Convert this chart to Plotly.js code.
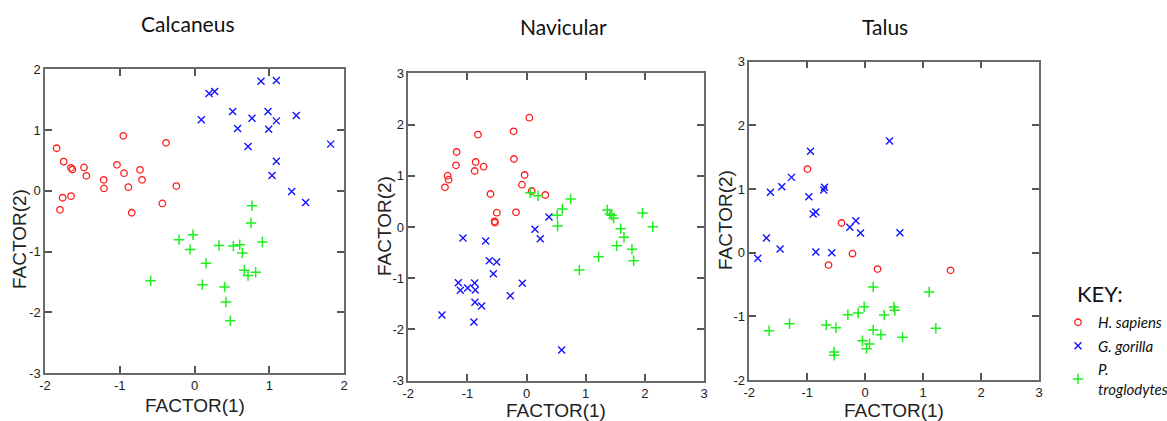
<!DOCTYPE html>
<html>
<head>
<meta charset="utf-8">
<script src="https://cdn.plot.ly/plotly-3.0.1.min.js"></script>
<style>html,body{margin:0;padding:0;background:#fff;}#chart{width:1167px;height:421px;}</style>
</head>
<body>
<div id="chart"></div>
<script>
// ---- Data ----
const panelTitles = ["Calcaneus", "Navicular", "Talus"];
const speciesNames = ["<i>H. sapiens</i>", "<i>G. gorilla</i>", "<i>P.</i><br><i>troglodytes</i>"];

// Calcaneus
const calcHsX = [-1.844,-1.75,-1.652,-1.634,-1.478,-1.447,-1.215,-1.211,-1.037,-0.952,-0.943,-0.885,-0.729,-0.702,-0.840,-0.381,-0.43,-0.243,-1.764,-1.652,-1.80];
const calcHsY = [0.70,0.48,0.378,0.35,0.384,0.247,0.18,0.038,0.428,0.905,0.29,0.06,0.345,0.18,-0.362,0.79,-0.208,0.077,-0.115,-0.088,-0.313];
const calcGgX = [0.091,0.194,0.27,0.511,0.577,0.769,0.716,0.89,1.095,0.983,0.992,1.095,1.362,1.095,1.037,1.30,1.487,1.822];
const calcGgY = [1.168,1.60,1.634,1.305,1.025,1.195,0.729,1.804,1.815,1.305,1.014,1.151,1.239,0.488,0.252,-0.011,-0.192,0.768];
const calcPtX = [0.769,0.756,0.908,-0.207,-0.02,-0.06,0.328,0.52,0.605,0.64,0.154,-0.586,0.104,0.403,0.667,0.716,0.818,0.421,0.479];
const calcPtY = [-0.247,-0.532,-0.844,-0.806,-0.724,-0.965,-0.899,-0.91,-0.888,-1.025,-1.195,-1.48,-1.546,-1.584,-1.31,-1.393,-1.343,-1.831,-2.138];

// Navicular
const navHsX = [0.046,-0.219,-0.822,-1.183,-1.194,-0.861,-0.878,-0.726,-1.335,-1.318,-1.38,-0.213,-0.033,-0.078,0.086,0.317,-0.61,-0.503,-0.179,-0.541,-0.535];
const navHsY = [2.134,1.868,1.803,1.464,1.204,1.269,1.093,1.178,1.002,0.924,0.774,1.327,1.015,0.826,0.703,0.625,0.644,0.28,0.286,0.111,0.085];
const navGgX = [-1.075,-0.692,-0.63,-0.506,-0.562,0.142,0.232,0.379,-0.072,-0.275,-0.878,-0.867,-0.996,-1.154,-1.12,-0.873,-0.76,-0.89,-1.431,0.593];
const navGgY = [-0.215,-0.273,-0.657,-0.683,-0.911,-0.046,-0.228,0.195,-1.10,-1.341,-1.093,-1.23,-1.191,-1.087,-1.236,-1.471,-1.542,-1.855,-1.718,-2.401];
const navPtX = [0.063,0.193,0.745,0.604,0.519,0.525,1.365,1.41,1.438,1.472,1.959,2.134,1.591,1.647,1.523,1.782,1.81,1.219,0.892];
const navPtY = [0.67,0.612,0.547,0.351,0.228,0.02,0.332,0.254,0.228,0.169,0.273,0.007,-0.033,-0.202,-0.364,-0.436,-0.657,-0.579,-0.839];

// Talus
const talHsX = [-0.996,-0.409,-0.219,-0.633,0.213,1.473];
const talHsY = [1.314,0.466,-0.016,-0.194,-0.257,-0.277];
const talGgX = [0.42,-0.944,-1.272,-1.439,-1.635,-0.702,-0.714,-0.973,-0.898,-0.852,-0.265,-0.161,-0.081,0.599,-1.704,-1.468,-1.853,-0.852,-0.576];
const talGgY = [1.754,1.592,1.183,1.037,0.948,1.026,0.984,0.88,0.607,0.639,0.398,0.503,0.309,0.314,0.23,0.058,-0.089,0.01,0];
const talPtX = [0.138,1.105,1.22,0.645,0.495,0.512,0.328,-0.017,-0.121,-0.299,0.138,0.271,-0.046,0.075,0.023,-0.673,-0.506,-0.535,-0.535,-1.306,-1.658];
const talPtY = [-0.539,-0.618,-1.188,-1.33,-0.853,-0.906,-0.979,-0.848,-0.948,-0.974,-1.215,-1.288,-1.382,-1.435,-1.508,-1.136,-1.178,-1.56,-1.613,-1.115,-1.225];

const xTicks1 = [-2,-1,0,1,2];
const yTicks1 = [-3,-2,-1,0,1,2];
const xTicks2 = [-2,-1,0,1,2,3];
const yTicks2 = [-3,-2,-1,0,1,2,3];
const xTicks3 = [-2,-1,0,1,2,3];
const yTicks3 = [-2,-1,0,1,2,3];
const axisTitleX = "FACTOR(1)";
const axisTitleY = "FACTOR(2)";
const keyTitle = "KEY:";

// ---- Styles ----
const RED = "#ff1a1a", BLUE = "#1414ff", GREEN = "#1ef01e";
const styles = [
  {symbol: "circle-open", size: 6.5, color: RED, lw: 1.3},
  {symbol: "x-thin-open", size: 7, color: BLUE, lw: 1.4},
  {symbol: "cross-thin-open", size: 7.5, color: GREEN, lw: 1.5}
];

const panels = [
  [[calcHsX, calcHsY],[calcGgX, calcGgY],[calcPtX, calcPtY]],
  [[navHsX, navHsY],[navGgX, navGgY],[navPtX, navPtY]],
  [[talHsX, talHsY],[talGgX, talGgY],[talPtX, talPtY]]
];

const traces = [];
panels.forEach((p, pi) => {
  p.forEach((s, si) => {
    const st = styles[si];
    traces.push({
      type: "scatter", mode: "markers",
      x: s[0], y: s[1],
      xaxis: pi === 0 ? "x" : "x" + (pi + 1),
      yaxis: pi === 0 ? "y" : "y" + (pi + 1),
      name: speciesNames[si],
      legendgroup: "g" + si,
      showlegend: pi === 0,
      marker: {symbol: st.symbol, size: st.size, color: st.color, line: {color: st.color, width: st.lw}},
      hoverinfo: "x+y"
    });
  });
});

const W = 1167, H = 421;
const ARIAL = "Liberation Sans, Arial, sans-serif";
const CALIBRI = "Lato, Open Sans, sans-serif";
function axisBase(tv, range) {
  return {
    range: range, tickvals: tv, ticktext: tv.map(String),
    showline: true, linecolor: "#6a6a6a", linewidth: 1.5,
    mirror: "ticks", ticks: "inside", ticklen: 7, tickwidth: 1.5, tickcolor: "#555",
    showgrid: false, zeroline: false, automargin: false,
    tickfont: {family: ARIAL, size: 13, color: "#222"},
    fixedrange: true
  };
}
function xa(domainPx, tv, range, anchor) {
  return Object.assign(axisBase(tv, range), {domain: [domainPx[0]/W, domainPx[1]/W], anchor: anchor});
}
function ya(domainPx, tv, range, anchor) {
  return Object.assign(axisBase(tv, range), {domain: [1 - domainPx[1]/H, 1 - domainPx[0]/H], anchor: anchor});
}

function ann(text, xpx, ypx, font, extra) {
  return Object.assign({text: text, x: xpx/W, y: 1 - ypx/H, xref: "paper", yref: "paper",
    xanchor: "center", yanchor: "middle", showarrow: false, font: font}, extra || {});
}
const titleFont = {family: CALIBRI, size: 21, color: "#111"};
const axFont = {family: ARIAL, size: 19, color: "#222"};

const layout = {
  width: W, height: H,
  margin: {l: 0, r: 0, t: 0, b: 0, autoexpand: false},
  paper_bgcolor: "#fff", plot_bgcolor: "#fff",
  showlegend: true,
  legend: {
    x: 1058/W, y: 1 - 306/H, xanchor: "left", yanchor: "top",
    font: {family: CALIBRI, size: 15, color: "#111"},
    bgcolor: "rgba(0,0,0,0)", itemwidth: 30, tracegroupgap: 1
  },
  xaxis: xa([45, 344], xTicks1, [-2, 2], "y"),
  yaxis: ya([69.3, 373], yTicks1, [-3, 2], "x"),
  xaxis2: xa([408.3, 704], xTicks2, [-2, 3], "y2"),
  yaxis2: ya([73.3, 380.7], yTicks2, [-3, 3], "x2"),
  xaxis3: xa([749.3, 1039], xTicks3, [-2, 3], "y3"),
  yaxis3: ya([61.7, 380], yTicks3, [-2, 3], "x3"),
  annotations: [
    ann(panelTitles[0], 188, 24, titleFont),
    ann(panelTitles[1], 563, 27, titleFont),
    ann(panelTitles[2], 885, 27, titleFont),
    ann(axisTitleX, 194.5, 405, axFont),
    ann(axisTitleX, 555.5, 410, axFont),
    ann(axisTitleX, 893.5, 410, axFont),
    ann(axisTitleY, 19, 239, axFont, {textangle: -90}),
    ann(axisTitleY, 384.5, 226.5, axFont, {textangle: -90}),
    ann(axisTitleY, 726, 220, axFont, {textangle: -90}),
    ann(keyTitle, 1075, 293, {family: CALIBRI, size: 22, color: "#111"}, {xanchor: "left"})
  ]
};

Plotly.newPlot("chart", traces, layout, {displayModeBar: false});
</script>
</body>
</html>
